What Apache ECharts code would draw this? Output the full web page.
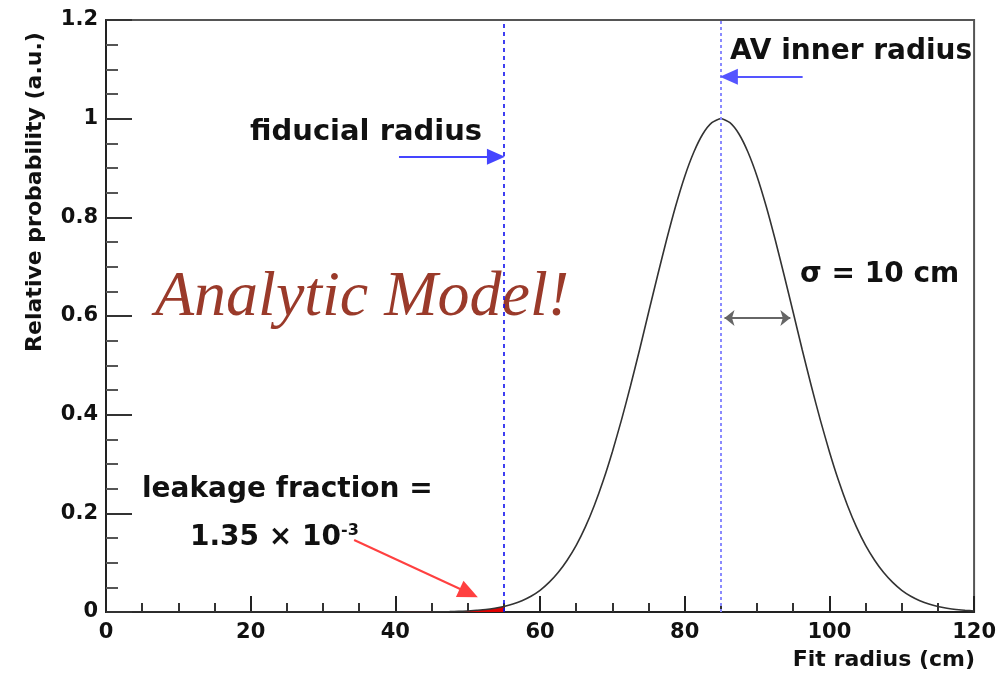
<!DOCTYPE html>
<html style="height: 100%">
<head>
<meta charset="utf-8">
<script type="text/javascript" src="https://cdn.jsdelivr.net/npm/echarts@6/dist/echarts.min.js"></script>
</head>
<body style="height: 100%; margin: 0; background: #fff">
<div id="container" style="width: 999px; height: 674px"></div>
<script type="text/javascript">
// fit radius (cm) and relative probability
var RADIUS = [0, 40, 45, 47.5, 48.75, 50, 51.25, 52.5, 53.75, 55, 56.25, 57.5, 58.75, 60, 61.25, 62.5, 63.75,
              65, 66.25, 67.5, 68.75, 70, 71.25, 72.5, 73.75, 75, 76.25, 77.5, 78.75, 80, 81.25, 82.5, 83.75, 85,
              86.25, 87.5, 88.75, 90, 91.25, 92.5, 93.75, 95, 96.25, 97.5, 98.75, 100, 101.25, 102.5, 103.75,
              105, 106.25, 107.5, 108.75, 110, 111.25, 112.5, 113.75, 115, 116.25, 117.5, 118.75, 120];
var PROB = [0, 0, 0.0003, 0.0009, 0.0014, 0.002, 0.0034, 0.005, 0.0076, 0.011, 0.016, 0.023, 0.032, 0.044, 0.06, 0.08, 0.105,
            0.135, 0.172, 0.216, 0.267, 0.325, 0.389, 0.458, 0.531, 0.607, 0.682, 0.755, 0.823, 0.883, 0.932, 0.969, 0.992, 1,
            0.992, 0.969, 0.932, 0.883, 0.823, 0.755, 0.682, 0.607, 0.531, 0.458, 0.389, 0.325, 0.267, 0.216, 0.172,
            0.135, 0.105, 0.08, 0.06, 0.044, 0.032, 0.023, 0.016, 0.011, 0.0076, 0.005, 0.0034, 0.002];
// leakage region below the fiducial cut
var LEAK_END = 55;
var FIDUCIAL = 55;
var AV_INNER = 85;
var SIGMA = 10;
var X_TICKS = [0, 120, 20];
var Y_TICKS = [0, 1.2, 0.2];

var curve = [];
var leak = [];
for (var i = 0; i < RADIUS.length; i++) {
    curve.push([RADIUS[i], PROB[i]]);
    if (RADIUS[i] >= 40 && RADIUS[i] <= LEAK_END) leak.push([RADIUS[i], PROB[i]]);
}

var BOLD = '"DejaVu Sans", sans-serif';

function arrow(from, to, color, size, both) {
    var ls = {color: color, type: 'solid', width: 2};
    return [
        {coord: from, symbol: both ? 'arrow' : 'none', symbolSize: size, lineStyle: ls},
        {coord: to, symbol: both ? 'arrow' : 'triangle', symbolSize: size, lineStyle: ls}
    ];
}

var option = {
    backgroundColor: '#fff',
    animation: false,
    grid: {left: 106, right: 22, top: 20, bottom: 62, show: true, borderColor: '#555', borderWidth: 2},
    xAxis: {
        type: 'value',
        min: X_TICKS[0], max: X_TICKS[1], interval: X_TICKS[2],
        axisLine: {lineStyle: {color: '#222', width: 2}},
        axisTick: {inside: true, length: 16, lineStyle: {color: '#222', width: 2}},
        minorTick: {show: true, splitNumber: 4, length: 9, lineStyle: {color: '#333', width: 2}},
        splitLine: {show: false},
        axisLabel: {margin: 10, color: '#111', fontFamily: BOLD, fontWeight: 'bold', fontSize: 21}
    },
    yAxis: {
        type: 'value',
        min: Y_TICKS[0], max: Y_TICKS[1], interval: Y_TICKS[2],
        axisLine: {lineStyle: {color: '#222', width: 2}},
        axisTick: {inside: true, length: 26, lineStyle: {color: '#333', width: 2}},
        minorTick: {show: true, splitNumber: 4, length: 12, lineStyle: {color: '#555', width: 2}},
        splitLine: {show: false},
        axisLabel: {margin: 8, color: '#111', fontFamily: BOLD, fontWeight: 'bold', fontSize: 21}
    },
    series: [{
        type: 'line',
        data: leak,
        smooth: 0.2,
        symbol: 'none',
        lineStyle: {width: 0},
        areaStyle: {color: '#e00000', opacity: 1},
        z: 1
    }, {
        type: 'line',
        data: curve,
        smooth: 0.2,
        symbol: 'none',
        lineStyle: {color: '#333', width: 1.6},
        z: 3,
        markLine: {
            silent: true,
            symbol: 'none',
            label: {show: false},
            data: [
                {xAxis: FIDUCIAL, lineStyle: {color: '#1010ee', type: [4, 4], width: 1.6}},
                {xAxis: AV_INNER, lineStyle: {color: '#8a8aff', type: [3, 3], width: 2}},
                arrow([40.5, 0.923], [53.9, 0.923], '#4545ff', [16, 18], false),
                arrow([96.3, 1.085], [86.1, 1.085], '#5555ff', [16, 18], false),
                arrow([85.5, 0.596], [94.6, 0.596], '#666', [12, 10], true),
                arrow([34.3, 0.146], [50.15, 0.0385], '#ff4040', [18, 20], false)
            ]
        }
    }],
    graphic: [
        {type: 'text', x: 35, y: 192, rotation: Math.PI / 2,
         style: {text: 'Relative probability (a.u.)', font: 'bold 22px ' + BOLD, fill: '#111', align: 'center', verticalAlign: 'middle'}},
        {type: 'text', x: 975, y: 660,
         style: {text: 'Fit radius (cm)', font: 'bold 22px ' + BOLD, fill: '#111', align: 'right', verticalAlign: 'middle'}},
        {type: 'text', x: 250, y: 132,
         style: {text: 'fiducial radius', font: 'bold 29px ' + BOLD, fill: '#111', align: 'left', verticalAlign: 'middle'}},
        {type: 'text', x: 730, y: 52,
         style: {text: 'AV inner radius', font: 'bold 28px ' + BOLD, fill: '#111', align: 'left', verticalAlign: 'middle'}},
        {type: 'text', x: 800, y: 275,
         style: {text: 'σ = 10 cm', font: 'bold 28px ' + BOLD, fill: '#111', align: 'left', verticalAlign: 'middle'}},
        {type: 'text', x: 142, y: 490,
         style: {text: 'leakage fraction =', font: 'bold 28px ' + BOLD, fill: '#111', align: 'left', verticalAlign: 'middle'}},
        {type: 'text', x: 190, y: 538,
         style: {text: '{a|1.35 × 10}{b|-3}', align: 'left', verticalAlign: 'middle',
                 rich: {a: {font: 'bold 28px ' + BOLD, fill: '#111', color: '#111'},
                        b: {font: 'bold 16px ' + BOLD, fill: '#111', color: '#111', padding: [0, 0, 14, 0]}}}},
        {type: 'text', x: 155, y: 298,
         style: {text: 'Analytic Model!', font: 'italic 64px "Liberation Serif", serif', fill: '#9a3a2a', align: 'left', verticalAlign: 'middle'}}
    ]
};

var myChart = echarts.init(document.getElementById('container'));
myChart.setOption(option);
</script>
</body>
</html>
